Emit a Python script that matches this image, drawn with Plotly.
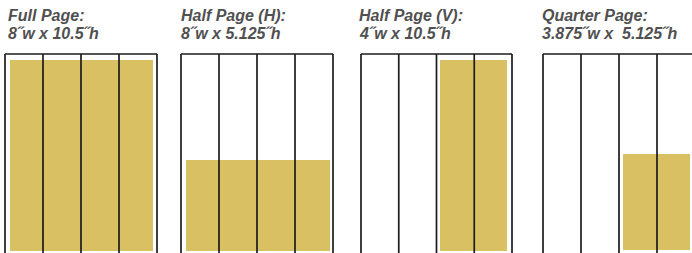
import plotly.graph_objects as go

# ---- data ----
ad_names = ["Full Page:", "Half Page (H):", "Half Page (V):", "Quarter Page:"]
ad_dims = ["8˝w x 10.5˝h", "8˝w x 5.125˝h", "4˝w x 10.5˝h", "3.875˝w x  5.125˝h"]
ad_widths = [8, 8, 4, 3.875]        # inches
ad_heights = [10.5, 5.125, 10.5, 5.125]  # inches
page_width = 8
n_columns = 4

# ---- layout geometry (pixels) ----
W, H = 692, 253
frame_left = [5, 181, 361, 543]
frame_right = [157, 333, 512, 695]
frame_top = 54
fill_left = [10, 186, 440, 623]
fill_right = [153, 330, 507, 690]
fill_top = [60, 160, 60, 154]
fill_bottom = [251, 251, 251, 250]
text_left = [6, 179, 357, 540]

YELLOW = "#D9C062"
LINE = "#1c1c1c"
TEXT = "#505050"

fig = go.Figure()
shapes = []
annotations = []


def px(x):
    return x / W


def py(y):
    return 1 - y / H


for i in range(4):
    ax = "" if i == 0 else str(i + 1)
    x0_in = page_width - ad_widths[i]
    x1_in = page_width
    sx = (fill_right[i] - fill_left[i]) / (x1_in - x0_in)
    L = frame_left[i]
    R = min(frame_right[i], W)
    xr = [x0_in - (fill_left[i] - L) / sx, x0_in + (R - fill_left[i]) / sx]
    sy = (fill_bottom[i] - fill_top[i]) / ad_heights[i]
    ymin = -(H - fill_bottom[i]) / sy
    yr = [ymin, ymin + H / sy]

    fig.add_trace(go.Bar(
        x=[(x0_in + x1_in) / 2], y=[ad_heights[i]], width=[ad_widths[i]], base=0,
        marker=dict(color=YELLOW, line=dict(width=0)),
        xaxis="x" + ax, yaxis="y" + ax, showlegend=False, hoverinfo="skip",
    ))
    fig.update_layout(**{
        "xaxis" + ax: dict(domain=[L / W, R / W], range=xr, visible=False, fixedrange=True,
                           anchor="y" + ax),
        "yaxis" + ax: dict(domain=[0, 1], range=yr, visible=False, fixedrange=True,
                           anchor="x" + ax),
    })

    fl, fr = frame_left[i], frame_right[i]
    lw = 1.7
    shapes.append(dict(type="line", xref="paper", yref="paper", x0=px(fl), x1=px(fr),
                       y0=py(frame_top), y1=py(frame_top), line=dict(color=LINE, width=lw)))
    for xx in [fl, fr]:
        shapes.append(dict(type="line", xref="paper", yref="paper", x0=px(xx), x1=px(xx),
                           y0=py(frame_top), y1=py(H + 5), line=dict(color=LINE, width=lw)))
    for c in range(1, n_columns):
        xx = fl + (fr - fl) * c / n_columns
        shapes.append(dict(type="line", xref="paper", yref="paper", x0=px(xx), x1=px(xx),
                           y0=py(frame_top), y1=py(H + 5), line=dict(color=LINE, width=lw)))

    for txt, yc in [(ad_names[i], 16), (ad_dims[i], 33.5)]:
        annotations.append(dict(
            text=txt, xref="paper", yref="paper", x=text_left[i] / W, y=1 - yc / H,
            xanchor="left", yanchor="middle", showarrow=False,
            font=dict(family="Liberation Sans, Arial, sans-serif", size=16, color=TEXT,
                      weight="bold", style="italic"),
        ))

fig.update_layout(
    width=W, height=H, autosize=False,
    margin=dict(l=0, r=0, t=0, b=0),
    paper_bgcolor="white", plot_bgcolor="rgba(0,0,0,0)",
    shapes=shapes, annotations=annotations, barmode="overlay",
)

fig.write_html("out.html", config={"displayModeBar": False},
               post_script="document.body.style.margin='0';document.body.style.overflow='hidden';")
